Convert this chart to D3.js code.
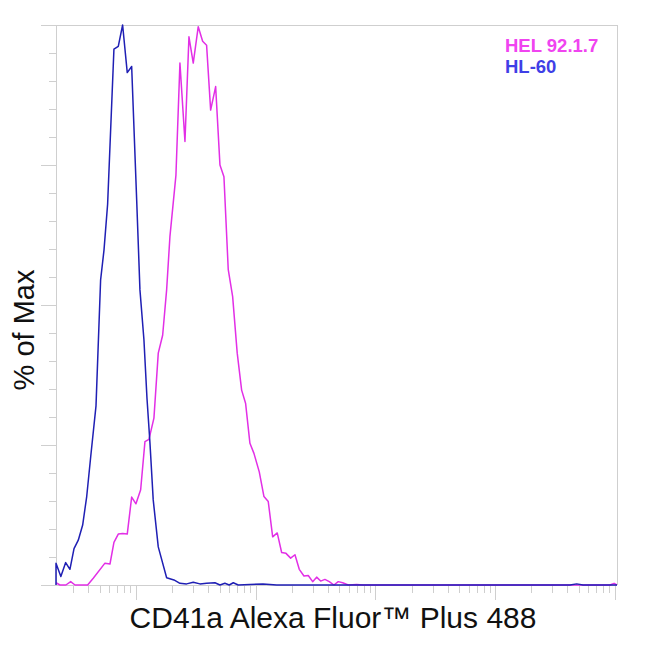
<!DOCTYPE html>
<html>
<head>
<meta charset="utf-8">
<script src="https://cdn.jsdelivr.net/npm/d3@7"></script>
<style>
    body { margin: 0; background: #fff; }
    svg { display: block; font-family: "Liberation Sans", Arial, sans-serif; }
    .axis path, .axis line { stroke: #cfcfcf; shape-rendering: crispEdges; }
</style>
</head>
<body>
<svg id="chart" width="650" height="650"></svg>
<script>
(function (d3) {
    'use strict';

    // HL-60 histogram: fluorescence intensity / % of max
    var hl60X = [21.5, 21.5, 23.6, 25.9, 28.1, 30.4, 33.0, 35.9, 38.8, 41.9, 46.4, 50.7, 54.1, 58.0,
            65.5, 71.2, 77.4, 84.6, 92.1, 101.4, 108.0, 116.6, 123.6, 130.9, 139.4, 153.6, 180.4,
            207.6, 233.0, 265, 301, 342, 389, 457, 503, 553, 601, 650, 715, 895, 1150, 1496,
            16000, 421000, 479000, 541000, 1040000],
        hl60Y = [0, 3.9, 1.5, 4.0, 2.8, 6.5, 8.0, 10.7, 15.8, 22.9, 32.0, 54.5, 59.8, 68.0,
            95.7, 96.2, 100, 91.5, 92.6, 68.8, 52.7, 43.8, 33.4, 25.4, 15.2, 6.8, 1.3,
            0.9, 0.3, 0.2, 0.5, 0.2, 0.3, 0.4, 0, 0.3, 0, 0.4, 0, 0.1, 0.2, 0,
            0, 0, 0.2, 0, 0];

    // HEL 92.1.7 histogram
    var helX = [21.5, 23.2, 26.0, 28.5, 31.0, 39.5, 44.0, 55.1, 60.7, 65.5, 71.2, 77.4, 84.6, 92.1,
            100, 109.5, 118.9, 128.4, 141.3, 153.6, 167.1, 180.4, 192.2, 215.8, 233.0, 256.6,
            277.1, 301, 331.3, 360.5, 389, 420.5, 463, 503, 543, 590, 642, 701, 763, 824, 895,
            967, 1071, 1172, 1273, 1386, 1513, 1647, 1790, 1958, 2128, 2311, 2529, 2747, 2990,
            3228, 3487, 3785, 4114, 4500, 4890, 5325, 5930, 6966, 7907, 908000, 983000, 1040000],
        helY = [0.4, 0, 0, 0.6, 0, 0, 1.2, 3.9, 3.75, 7.6, 9.1, 9.2, 9.1, 15.7,
            14.5, 17.0, 25.6, 26.0, 29.8, 41.4, 44.6, 52.7, 62.2, 73.2, 93.2, 79.2,
            97.9, 93.2, 99.7, 97.1, 96.4, 84.8, 89.0, 75.0, 72.9, 56.3, 51.5, 41.4, 34.8, 32.4, 25.3,
            23.5, 20.2, 15.8, 14.9, 8.6, 9.3, 5.8, 5.65, 4.8, 5.4, 2.8, 1.6, 1.7, 0.6,
            1.4, 0.7, 1.0, 0.6, 0, 0.6, 0.4, 0, 0.1, 0, 0, 0.3, 0];

    var seriesNames = ['HEL 92.1.7', 'HL-60'],
        lineColors = ['#e22fe6', '#1f1fb4'],
        legendColors = ['#f044f0', '#3f3fe6'],
        xDomain = [21.5, 1040000],
        yTicksMajor = [0, 25, 50, 75, 100];

    var svg = d3.select('#chart'),
        left = 56,
        right = 617,
        top = 25,
        bottom = 585;

    var x = d3.scaleLog().domain(xDomain).range([left, right]),
        y = d3.scaleLinear().domain([0, 100]).range([bottom, top]);

    var xMajor = [],
        xMinor = [],
        decade,
        step;
    for (decade = 10; decade <= 1e6; decade *= 10) {
        for (step = 1; step < 10; step += 1) {
            var v = decade * step;
            if (v >= xDomain[0] && v <= xDomain[1]) {
                (step === 1 ? xMajor : xMinor).push(v);
            }
        }
    }
    var yMinor = d3.range(0, 101, 5).filter(function (t) {
        return yTicksMajor.indexOf(t) < 0;
    });

    // frame: top and right edges
    svg.append('line').attr('x1', left - 15).attr('x2', right)
        .attr('y1', top + 0.5).attr('y2', top + 0.5)
        .attr('stroke', '#cfcfcf');
    svg.append('line').attr('x1', right + 0.5).attr('x2', right + 0.5)
        .attr('y1', top).attr('y2', bottom)
        .attr('stroke', '#cfcfcf');

    function drawAxis(axis, size, transform) {
        var g = svg.append('g').attr('class', 'axis').attr('transform', transform)
            .call(axis.tickSize(size).tickFormat(''));
        g.select('.domain').remove();
        return g;
    }

    drawAxis(d3.axisBottom(x).tickValues(xMajor), 15, 'translate(0,' + bottom + ')');
    drawAxis(d3.axisBottom(x).tickValues(xMinor), 8, 'translate(0,' + bottom + ')');
    drawAxis(d3.axisLeft(y).tickValues(yTicksMajor), 15, 'translate(' + left + ',0)');
    drawAxis(d3.axisLeft(y).tickValues(yMinor), 7, 'translate(' + left + ',0)');

    svg.append('line').attr('x1', left - 15).attr('x2', right)
        .attr('y1', bottom + 0.5).attr('y2', bottom + 0.5).attr('stroke', '#cfcfcf');
    svg.append('line').attr('x1', left + 0.5).attr('x2', left + 0.5)
        .attr('y1', top).attr('y2', bottom).attr('stroke', '#cfcfcf');

    var line = d3.line()
        .x(function (d) { return x(d[0]); })
        .y(function (d) { return y(d[1]); });

    [[helX, helY], [hl60X, hl60Y]].forEach(function (s, i) {
        svg.append('path')
            .datum(d3.zip(s[0], s[1]))
            .attr('d', line)
            .attr('fill', 'none')
            .attr('stroke', lineColors[i])
            .attr('stroke-width', 1.5)
            .attr('stroke-linejoin', 'round');
    });

    svg.selectAll('.legend')
        .data(seriesNames)
        .enter().append('text')
        .attr('class', 'legend')
        .attr('x', 505)
        .attr('y', function (d, i) { return 51.5 + i * 21; })
        .attr('fill', function (d, i) { return legendColors[i]; })
        .style('font-size', '18.5px')
        .style('font-weight', 'bold')
        .text(function (d) { return d; });

    svg.append('text')
        .attr('x', 333)
        .attr('y', 628)
        .attr('text-anchor', 'middle')
        .style('font-size', '30px')
        .attr('fill', '#111')
        .text('CD41a Alexa Fluor\u2122 Plus 488');

    svg.append('text')
        .attr('transform', 'translate(34,330) rotate(-90)')
        .attr('text-anchor', 'middle')
        .style('font-size', '29px')
        .attr('fill', '#111')
        .text('% of Max');
}(window.d3));
</script>
</body>
</html>
